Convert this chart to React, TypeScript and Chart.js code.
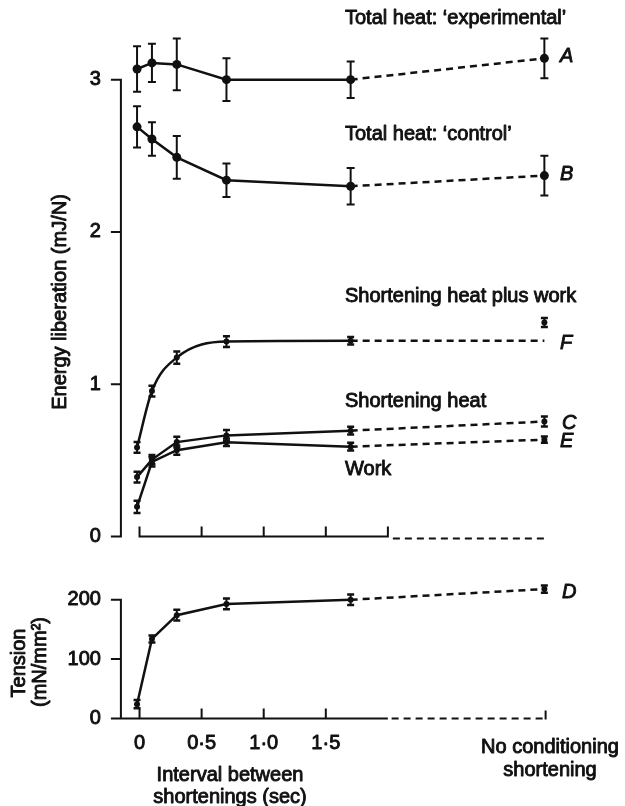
import React, { useEffect, useRef } from "react";
import { Chart, registerables } from "chart.js";
Chart.register(...registerables);

// ---- data ----
const intervals = [-0.02, 0.1, 0.3, 0.7, 1.7];
const noConditioningX = 3.26; // position of the "No conditioning shortening" column

const expHeat = [3.07, 3.11, 3.1, 3.0, 3.0, 3.14];
const expHeatErr = [0.15, 0.125, 0.17, 0.14, 0.12, 0.13];
const ctrlHeat = [2.69, 2.61, 2.49, 2.34, 2.3, 2.37];
const ctrlHeatErr = [0.135, 0.11, 0.14, 0.11, 0.12, 0.13];
const shortHeatPlusWork = [0.585, 0.955, 1.175, 1.28, 1.285];
const shortHeatPlusWorkErr = [0.035, 0.035, 0.04, 0.035, 0.025];
const shortHeatPlusWorkRef = 1.285; // end of dashed line F
const shortHeatPlusWorkNoCond = 1.405;
const shortHeatPlusWorkNoCondErr = 0.03;
const shortHeat = [0.39, 0.505, 0.62, 0.664, 0.695, 0.755];
const shortHeatErr = [0.035, 0.03, 0.035, 0.035, 0.025, 0.033];
const work = [0.195, 0.49, 0.567, 0.619, 0.59, 0.636];
const workErr = [0.04, 0.03, 0.03, 0.025, 0.025, 0.02];
const tension = [24, 134, 174, 193, 200, 218];
const tensionErr = [7, 6, 9, 9, 9, 6];

const energyTicks = [0, 1, 2, 3];
const tensionTicks = [0, 100, 200];
const xTicks = [0, 0.5, 1.0, 1.5];
const xTickLabels = ["0", "0·5", "1·0", "1·5"];

const FONT = '"Liberation Sans", Arial, sans-serif';
const INK = "#111";

const allX = [...intervals, noConditioningX];
const pts = (ys: number[], xs: number[] = allX) => ys.map((y, i) => ({ x: xs[i], y }));
const dashLast = { borderDash: (c: any) => (c.p1DataIndex === 5 ? [7, 5] : undefined) };

function drawText(ctx: CanvasRenderingContext2D, s: string, x: number, y: number, align: CanvasTextAlign, font: string) {
  ctx.font = font;
  ctx.textAlign = align;
  ctx.textBaseline = "middle";
  ctx.fillStyle = INK;
  ctx.strokeStyle = INK;
  ctx.lineWidth = 0.9;
  ctx.lineJoin = "round";
  ctx.fillText(s, x, y);
  ctx.strokeText(s, x, y);
}

const overlay = {
  id: "overlay",
  afterDatasetsDraw(chart: any) {
    const { ctx } = chart;
    const xs = chart.scales.x;
    const ys = chart.scales.y;
    const ys2 = chart.scales.y2;
    const X = (v: number) => xs.getPixelForValue(v);
    const Y = (v: number) => ys.getPixelForValue(v);
    const Y2 = (v: number) => ys2.getPixelForValue(v);
    ctx.save();
    ctx.strokeStyle = INK;
    ctx.lineCap = "butt";

    // error bars
    const bars = (vals: number[], errs: number[], Yf: (v: number) => number, cap: number, capW: number, xsArr = allX) => {
      vals.forEach((v, i) => {
        const px = X(xsArr[i]);
        const t = Yf(v + errs[i]);
        const b = Yf(v - errs[i]);
        ctx.lineWidth = 2;
        ctx.beginPath();
        ctx.moveTo(px, t); ctx.lineTo(px, b);
        ctx.stroke();
        ctx.lineWidth = capW;
        ctx.beginPath();
        ctx.moveTo(px - cap, t); ctx.lineTo(px + cap, t);
        ctx.moveTo(px - cap, b); ctx.lineTo(px + cap, b);
        ctx.stroke();
      });
    };
    bars(expHeat, expHeatErr, Y, 4, 2);
    bars(ctrlHeat, ctrlHeatErr, Y, 4, 2);
    bars(shortHeatPlusWork, shortHeatPlusWorkErr, Y, 3.5, 2.5, intervals);
    bars([shortHeatPlusWorkNoCond], [shortHeatPlusWorkNoCondErr], Y, 3.5, 2.5, [noConditioningX]);
    bars(shortHeat, shortHeatErr, Y, 3.5, 2.5);
    bars(work, workErr, Y, 3.5, 2.5);
    bars(tension, tensionErr, Y2, 3.5, 2.5);

    const axX = X(-0.15);
    ctx.lineWidth = 2;
    // top y axis
    ctx.beginPath();
    ctx.moveTo(axX, Y(3)); ctx.lineTo(axX, Y(0));
    energyTicks.forEach((t) => { ctx.moveTo(axX - 10, Y(t)); ctx.lineTo(axX + 1, Y(t)); });
    // top x axis
    ctx.moveTo(X(0), Y(0)); ctx.lineTo(X(2), Y(0));
    [...xTicks, 2].forEach((t) => { ctx.moveTo(X(t), Y(0) + 1); ctx.lineTo(X(t), Y(0) - 10); });
    // bottom y axis
    ctx.moveTo(axX, Y2(200)); ctx.lineTo(axX, Y2(0));
    tensionTicks.forEach((t) => { ctx.moveTo(axX - 10, Y2(t)); ctx.lineTo(axX + 1, Y2(t)); });
    // bottom x axis
    ctx.moveTo(axX - 10, Y2(0)); ctx.lineTo(X(2), Y2(0));
    xTicks.forEach((t) => { ctx.moveTo(X(t), Y2(0) + 1); ctx.lineTo(X(t), Y2(0) - 10); });
    ctx.moveTo(X(noConditioningX + 0.01), Y2(0) + 1); ctx.lineTo(X(noConditioningX + 0.01), Y2(0) - 8);
    ctx.stroke();
    // dashed extensions
    ctx.setLineDash([7, 5]);
    ctx.beginPath();
    ctx.moveTo(X(2.04), Y(0) + 2); ctx.lineTo(X(noConditioningX + 0.01), Y(0) + 2);
    ctx.moveTo(X(2.03), Y2(0)); ctx.lineTo(X(noConditioningX + 0.01), Y2(0));
    ctx.stroke();
    ctx.setLineDash([]);

    const f = `20px ${FONT}`;
    const fi = `italic 20px ${FONT}`;
    energyTicks.forEach((t) => drawText(ctx, String(t), axX - 20, Y(t), "right", f));
    tensionTicks.forEach((t) => drawText(ctx, String(t), axX - 20, Y2(t), "right", f));
    xTicks.forEach((t, i) => drawText(ctx, xTickLabels[i], X(t), Y2(0) + 25, "center", f));

    drawText(ctx, "Total heat: \u2018experimental\u2019", 345, 18, "left", f);
    drawText(ctx, "Total heat: \u2018control\u2019", 345, 134, "left", f);
    drawText(ctx, "Shortening heat plus work", 345, 296, "left", f);
    drawText(ctx, "Shortening heat", 345, 401, "left", f);
    drawText(ctx, "Work", 345, 469, "left", f);
    drawText(ctx, "A", 560, 56, "left", fi);
    drawText(ctx, "B", 560, 174, "left", fi);
    drawText(ctx, "F", 560, 343, "left", fi);
    drawText(ctx, "C", 562, 423, "left", fi);
    drawText(ctx, "E", 560, 441, "left", fi);
    drawText(ctx, "D", 562, 592, "left", fi);

    drawText(ctx, "Interval between", 230, 775, "center", f);
    drawText(ctx, "shortenings (sec)", 230, 797, "center", f);
    drawText(ctx, "No conditioning", 550, 747, "center", f);
    drawText(ctx, "shortening", 550, 770, "center", f);

    const rot = (s: string, cx: number, cy: number) => {
      ctx.save();
      ctx.translate(cx, cy);
      ctx.rotate(-Math.PI / 2);
      drawText(ctx, s, 0, 0, "center", f);
      ctx.restore();
    };
    rot("Energy liberation (mJ/N)", 60, 302);
    rot("Tension", 19, 663);
    rot("(mN/mm\u00b2)", 40, 662);
    ctx.restore();
  },
};

export default function App() {
  const ref = useRef<HTMLCanvasElement>(null);
  useEffect(() => {
    if (!ref.current) return;
    const line = (data: any[], extra: any = {}) => ({
      data,
      borderColor: INK,
      backgroundColor: INK,
      borderWidth: 2.5,
      pointRadius: 3,
      pointBackgroundColor: INK,
      pointBorderWidth: 0,
      tension: 0,
      yAxisID: "y",
      segment: dashLast,
      ...extra,
    });
    const chart = new Chart(ref.current, {
      type: "line",
      data: {
        datasets: [
          line(pts(expHeat), { pointRadius: 4.5 }),
          line(pts(ctrlHeat), { pointRadius: 4.5 }),
          line(pts([...shortHeatPlusWork, shortHeatPlusWorkRef]), {
            cubicInterpolationMode: "monotone",
            pointRadius: [3, 3, 3, 3, 3, 0],
          }),
          line([{ x: noConditioningX, y: shortHeatPlusWorkNoCond }], { showLine: false }),
          line(pts(shortHeat)),
          line(pts(work)),
          line(pts(tension), { yAxisID: "y2" }),
        ],
      },
      options: {
        responsive: false,
        animation: false,
        events: [],
        layout: { padding: 0 },
        plugins: { legend: { display: false }, tooltip: { enabled: false } },
        scales: {
          x: { type: "linear", display: false, min: -137 / 126, max: -137 / 126 + 625 / 126 },
          y: { display: false, min: -(806 - 538) / 154, max: 538 / 154 },
          y2: { display: false, position: "left", min: -(806 - 722) / 0.6, max: 722 / 0.6 },
        },
      },
      plugins: [overlay],
    });
    return () => chart.destroy();
  }, []);
  return (
    <div style={{ position: "absolute", left: 0, top: 0, width: 625, height: 806, background: "#fff" }}>
      <canvas ref={ref} width={625} height={806} />
    </div>
  );
}
